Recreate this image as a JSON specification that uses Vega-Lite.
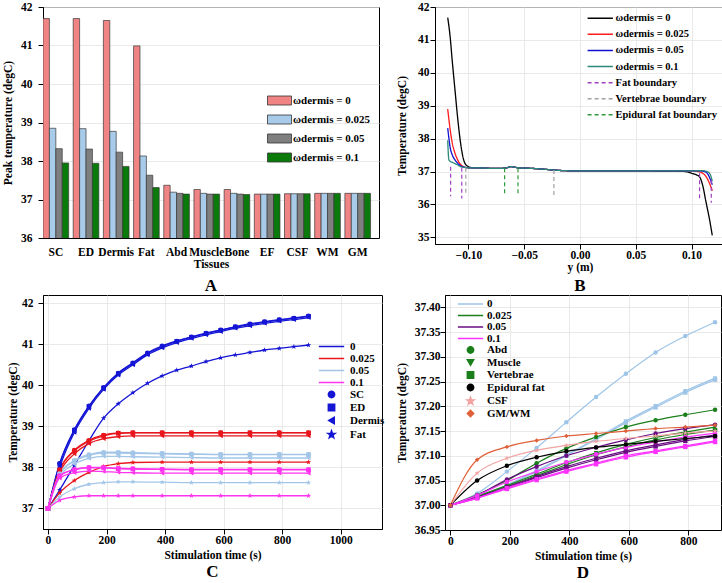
{
"$schema": "https://vega.github.io/schema/vega-lite/v6.json",
"padding": {"left": 2, "top": 0, "right": 0, "bottom": 0},
"columns": 2,
"align": {"row": "each", "column": "none"},
"spacing": {"row": -1, "column": 10},
"resolve": {"scale": {"color": "independent", "shape": "independent", "strokeDash": "independent"}},
"config": {
  "font": "Liberation Serif",
  "view": {"stroke": "black", "strokeWidth": 1},
  "axis": {"labelFont": "Liberation Serif", "labelFontWeight": "bold", "labelFontSize": 11.5, "labelColor": "black", "labelOverlap": false,
           "titleFont": "Liberation Serif", "titleFontWeight": "bold", "titleFontSize": 11.5, "titleColor": "black",
           "domainColor": "black", "tickColor": "black", "tickSize": 5, "gridColor": "#e3e3e3", "gridWidth": 0.8, "labelPadding": 3, "titlePadding": 4},
  "legend": {"labelFont": "Liberation Serif", "labelFontWeight": "bold", "labelFontSize": 11, "labelColor": "black", "padding": 0},
  "title": {"font": "Liberation Serif", "fontWeight": "bold", "fontSize": 17, "color": "black"}
},
"datasets": {
  "bars": [
    {"tissue":"SC","w":"0","v":41.7},{"tissue":"SC","w":"0.025","v":38.85},{"tissue":"SC","w":"0.05","v":38.32},{"tissue":"SC","w":"0.1","v":37.95},
    {"tissue":"ED","w":"0","v":41.7},{"tissue":"ED","w":"0.025","v":38.84},{"tissue":"ED","w":"0.05","v":38.31},{"tissue":"ED","w":"0.1","v":37.94},
    {"tissue":"Dermis","w":"0","v":41.65},{"tissue":"Dermis","w":"0.025","v":38.77},{"tissue":"Dermis","w":"0.05","v":38.23},{"tissue":"Dermis","w":"0.1","v":37.86},
    {"tissue":"Fat","w":"0","v":40.99},{"tissue":"Fat","w":"0.025","v":38.13},{"tissue":"Fat","w":"0.05","v":37.63},{"tissue":"Fat","w":"0.1","v":37.31},
    {"tissue":"Abd","w":"0","v":37.37},{"tissue":"Abd","w":"0.025","v":37.19},{"tissue":"Abd","w":"0.05","v":37.16},{"tissue":"Abd","w":"0.1","v":37.14},
    {"tissue":"Muscle","w":"0","v":37.26},{"tissue":"Muscle","w":"0.025","v":37.16},{"tissue":"Muscle","w":"0.05","v":37.14},{"tissue":"Muscle","w":"0.1","v":37.14},
    {"tissue":"Bone","w":"0","v":37.26},{"tissue":"Bone","w":"0.025","v":37.16},{"tissue":"Bone","w":"0.05","v":37.14},{"tissue":"Bone","w":"0.1","v":37.13},
    {"tissue":"EF","w":"0","v":37.14},{"tissue":"EF","w":"0.025","v":37.14},{"tissue":"EF","w":"0.05","v":37.14},{"tissue":"EF","w":"0.1","v":37.14},
    {"tissue":"CSF","w":"0","v":37.15},{"tissue":"CSF","w":"0.025","v":37.15},{"tissue":"CSF","w":"0.05","v":37.15},{"tissue":"CSF","w":"0.1","v":37.15},
    {"tissue":"WM","w":"0","v":37.16},{"tissue":"WM","w":"0.025","v":37.16},{"tissue":"WM","w":"0.05","v":37.16},{"tissue":"WM","w":"0.1","v":37.16},
    {"tissue":"GM","w":"0","v":37.16},{"tissue":"GM","w":"0.025","v":37.16},{"tissue":"GM","w":"0.05","v":37.16},{"tissue":"GM","w":"0.1","v":37.16}
  ],
  "profile": [
    {"y":-0.1186,"T":41.68,"k":"ωdermis = 0"},{"y":-0.1165,"T":41.12,"k":"ωdermis = 0"},{"y":-0.1144,"T":40.31,"k":"ωdermis = 0"},{"y":-0.112,"T":39.45,"k":"ωdermis = 0"},{"y":-0.1096,"T":38.6,"k":"ωdermis = 0"},{"y":-0.1072,"T":37.9,"k":"ωdermis = 0"},{"y":-0.1045,"T":37.38,"k":"ωdermis = 0"},{"y":-0.1015,"T":37.18,"k":"ωdermis = 0"},{"y":-0.097,"T":37.12,"k":"ωdermis = 0"},
    {"y":-0.09,"T":37.11,"k":"ωdermis = 0"},{"y":-0.08,"T":37.1,"k":"ωdermis = 0"},{"y":-0.07,"T":37.1,"k":"ωdermis = 0"},{"y":-0.065,"T":37.12,"k":"ωdermis = 0"},{"y":-0.062,"T":37.15,"k":"ωdermis = 0"},{"y":-0.058,"T":37.13,"k":"ωdermis = 0"},{"y":-0.055,"T":37.11,"k":"ωdermis = 0"},{"y":-0.045,"T":37.1,"k":"ωdermis = 0"},{"y":-0.035,"T":37.08,"k":"ωdermis = 0"},{"y":-0.025,"T":37.05,"k":"ωdermis = 0"},{"y":-0.015,"T":37.03,"k":"ωdermis = 0"},{"y":0,"T":37.02,"k":"ωdermis = 0"},{"y":0.05,"T":37.02,"k":"ωdermis = 0"},{"y":0.09,"T":37.01,"k":"ωdermis = 0"},
    {"y":0.095,"T":37.0,"k":"ωdermis = 0"},{"y":0.1,"T":36.95,"k":"ωdermis = 0"},{"y":0.1045,"T":36.9,"k":"ωdermis = 0"},{"y":0.1072,"T":36.84,"k":"ωdermis = 0"},{"y":0.11,"T":36.58,"k":"ωdermis = 0"},{"y":0.113,"T":36.07,"k":"ωdermis = 0"},{"y":0.116,"T":35.57,"k":"ωdermis = 0"},{"y":0.1186,"T":35.06,"k":"ωdermis = 0"},

    {"y":-0.1186,"T":38.9,"k":"ωdermis = 0.025"},{"y":-0.1165,"T":38.3,"k":"ωdermis = 0.025"},{"y":-0.1144,"T":37.85,"k":"ωdermis = 0.025"},{"y":-0.112,"T":37.55,"k":"ωdermis = 0.025"},{"y":-0.1096,"T":37.35,"k":"ωdermis = 0.025"},{"y":-0.1072,"T":37.22,"k":"ωdermis = 0.025"},{"y":-0.1045,"T":37.15,"k":"ωdermis = 0.025"},{"y":-0.1015,"T":37.12,"k":"ωdermis = 0.025"},{"y":-0.097,"T":37.11,"k":"ωdermis = 0.025"},
    {"y":-0.09,"T":37.11,"k":"ωdermis = 0.025"},{"y":-0.08,"T":37.1,"k":"ωdermis = 0.025"},{"y":-0.07,"T":37.1,"k":"ωdermis = 0.025"},{"y":-0.065,"T":37.12,"k":"ωdermis = 0.025"},{"y":-0.062,"T":37.15,"k":"ωdermis = 0.025"},{"y":-0.058,"T":37.13,"k":"ωdermis = 0.025"},{"y":-0.055,"T":37.11,"k":"ωdermis = 0.025"},{"y":-0.045,"T":37.1,"k":"ωdermis = 0.025"},{"y":-0.035,"T":37.08,"k":"ωdermis = 0.025"},{"y":-0.025,"T":37.05,"k":"ωdermis = 0.025"},{"y":-0.015,"T":37.03,"k":"ωdermis = 0.025"},{"y":0,"T":37.02,"k":"ωdermis = 0.025"},{"y":0.05,"T":37.02,"k":"ωdermis = 0.025"},{"y":0.09,"T":37.02,"k":"ωdermis = 0.025"},
    {"y":0.1,"T":37.02,"k":"ωdermis = 0.025"},{"y":0.106,"T":37.0,"k":"ωdermis = 0.025"},{"y":0.11,"T":36.95,"k":"ωdermis = 0.025"},{"y":0.113,"T":36.85,"k":"ωdermis = 0.025"},{"y":0.116,"T":36.65,"k":"ωdermis = 0.025"},{"y":0.1186,"T":36.42,"k":"ωdermis = 0.025"},

    {"y":-0.1186,"T":38.32,"k":"ωdermis = 0.05"},{"y":-0.1175,"T":38.0,"k":"ωdermis = 0.05"},{"y":-0.1165,"T":37.75,"k":"ωdermis = 0.05"},{"y":-0.1144,"T":37.5,"k":"ωdermis = 0.05"},{"y":-0.112,"T":37.35,"k":"ωdermis = 0.05"},{"y":-0.1096,"T":37.25,"k":"ωdermis = 0.05"},{"y":-0.1072,"T":37.18,"k":"ωdermis = 0.05"},{"y":-0.1045,"T":37.14,"k":"ωdermis = 0.05"},{"y":-0.1015,"T":37.12,"k":"ωdermis = 0.05"},{"y":-0.097,"T":37.11,"k":"ωdermis = 0.05"},
    {"y":-0.09,"T":37.11,"k":"ωdermis = 0.05"},{"y":-0.08,"T":37.1,"k":"ωdermis = 0.05"},{"y":-0.07,"T":37.1,"k":"ωdermis = 0.05"},{"y":-0.065,"T":37.12,"k":"ωdermis = 0.05"},{"y":-0.062,"T":37.15,"k":"ωdermis = 0.05"},{"y":-0.058,"T":37.13,"k":"ωdermis = 0.05"},{"y":-0.055,"T":37.11,"k":"ωdermis = 0.05"},{"y":-0.045,"T":37.1,"k":"ωdermis = 0.05"},{"y":-0.035,"T":37.08,"k":"ωdermis = 0.05"},{"y":-0.025,"T":37.05,"k":"ωdermis = 0.05"},{"y":-0.015,"T":37.03,"k":"ωdermis = 0.05"},{"y":0,"T":37.02,"k":"ωdermis = 0.05"},{"y":0.05,"T":37.02,"k":"ωdermis = 0.05"},{"y":0.09,"T":37.02,"k":"ωdermis = 0.05"},
    {"y":0.1,"T":37.02,"k":"ωdermis = 0.05"},{"y":0.108,"T":37.02,"k":"ωdermis = 0.05"},{"y":0.112,"T":37.0,"k":"ωdermis = 0.05"},{"y":0.115,"T":36.9,"k":"ωdermis = 0.05"},{"y":0.117,"T":36.75,"k":"ωdermis = 0.05"},{"y":0.1186,"T":36.6,"k":"ωdermis = 0.05"},

    {"y":-0.1186,"T":37.95,"k":"ωdermis = 0.1"},{"y":-0.118,"T":37.5,"k":"ωdermis = 0.1"},{"y":-0.1175,"T":37.35,"k":"ωdermis = 0.1"},{"y":-0.116,"T":37.3,"k":"ωdermis = 0.1"},{"y":-0.1144,"T":37.28,"k":"ωdermis = 0.1"},{"y":-0.112,"T":37.24,"k":"ωdermis = 0.1"},{"y":-0.1096,"T":37.2,"k":"ωdermis = 0.1"},{"y":-0.1072,"T":37.15,"k":"ωdermis = 0.1"},{"y":-0.1045,"T":37.13,"k":"ωdermis = 0.1"},{"y":-0.1015,"T":37.12,"k":"ωdermis = 0.1"},{"y":-0.097,"T":37.11,"k":"ωdermis = 0.1"},
    {"y":-0.09,"T":37.11,"k":"ωdermis = 0.1"},{"y":-0.08,"T":37.1,"k":"ωdermis = 0.1"},{"y":-0.07,"T":37.1,"k":"ωdermis = 0.1"},{"y":-0.065,"T":37.12,"k":"ωdermis = 0.1"},{"y":-0.062,"T":37.15,"k":"ωdermis = 0.1"},{"y":-0.058,"T":37.13,"k":"ωdermis = 0.1"},{"y":-0.055,"T":37.11,"k":"ωdermis = 0.1"},{"y":-0.045,"T":37.1,"k":"ωdermis = 0.1"},{"y":-0.035,"T":37.08,"k":"ωdermis = 0.1"},{"y":-0.025,"T":37.05,"k":"ωdermis = 0.1"},{"y":-0.015,"T":37.03,"k":"ωdermis = 0.1"},{"y":0,"T":37.02,"k":"ωdermis = 0.1"},{"y":0.05,"T":37.02,"k":"ωdermis = 0.1"},{"y":0.09,"T":37.02,"k":"ωdermis = 0.1"},
    {"y":0.1,"T":37.02,"k":"ωdermis = 0.1"},{"y":0.11,"T":37.03,"k":"ωdermis = 0.1"},{"y":0.114,"T":37.0,"k":"ωdermis = 0.1"},{"y":0.116,"T":36.95,"k":"ωdermis = 0.1"},{"y":0.1175,"T":36.85,"k":"ωdermis = 0.1"},{"y":0.1186,"T":36.7,"k":"ωdermis = 0.1"}
  ],
  "bounds": [
    {"y":-0.116,"T":37.15,"T2":36.25,"k":"Fat boundary"},
    {"y":-0.106,"T":37.12,"T2":36.18,"k":"Fat boundary"},
    {"y":0.1072,"T":36.95,"T2":36.12,"k":"Fat boundary"},
    {"y":0.1177,"T":36.75,"T2":36.05,"k":"Fat boundary"},
    {"y":-0.1024,"T":37.12,"T2":36.28,"k":"Vertebrae boundary"},
    {"y":-0.0234,"T":37.05,"T2":36.2,"k":"Vertebrae boundary"},
    {"y":-0.0676,"T":37.1,"T2":36.3,"k":"Epidural fat boundary"},
    {"y":-0.0556,"T":37.1,"T2":36.3,"k":"Epidural fat boundary"}
  ],
  "timeC": [
    {"t":0,"v":37.0,"c":"0","s":"SC"},{"t":40,"v":38.1,"c":"0","s":"SC"},{"t":90,"v":38.92,"c":"0","s":"SC"},{"t":140,"v":39.5,"c":"0","s":"SC"},{"t":190,"v":39.95,"c":"0","s":"SC"},{"t":240,"v":40.3,"c":"0","s":"SC"},{"t":290,"v":40.55,"c":"0","s":"SC"},{"t":340,"v":40.79,"c":"0","s":"SC"},{"t":390,"v":40.96,"c":"0","s":"SC"},{"t":440,"v":41.08,"c":"0","s":"SC"},{"t":490,"v":41.18,"c":"0","s":"SC"},{"t":540,"v":41.27,"c":"0","s":"SC"},{"t":590,"v":41.35,"c":"0","s":"SC"},{"t":640,"v":41.43,"c":"0","s":"SC"},{"t":690,"v":41.5,"c":"0","s":"SC"},{"t":740,"v":41.55,"c":"0","s":"SC"},{"t":790,"v":41.6,"c":"0","s":"SC"},{"t":840,"v":41.64,"c":"0","s":"SC"},{"t":890,"v":41.69,"c":"0","s":"SC"},
    {"t":0,"v":37.0,"c":"0","s":"ED"},{"t":40,"v":38.08,"c":"0","s":"ED"},{"t":90,"v":38.9,"c":"0","s":"ED"},{"t":140,"v":39.48,"c":"0","s":"ED"},{"t":190,"v":39.93,"c":"0","s":"ED"},{"t":240,"v":40.28,"c":"0","s":"ED"},{"t":290,"v":40.53,"c":"0","s":"ED"},{"t":340,"v":40.77,"c":"0","s":"ED"},{"t":390,"v":40.94,"c":"0","s":"ED"},{"t":440,"v":41.07,"c":"0","s":"ED"},{"t":490,"v":41.17,"c":"0","s":"ED"},{"t":540,"v":41.26,"c":"0","s":"ED"},{"t":590,"v":41.34,"c":"0","s":"ED"},{"t":640,"v":41.42,"c":"0","s":"ED"},{"t":690,"v":41.48,"c":"0","s":"ED"},{"t":740,"v":41.54,"c":"0","s":"ED"},{"t":790,"v":41.59,"c":"0","s":"ED"},{"t":840,"v":41.63,"c":"0","s":"ED"},{"t":890,"v":41.68,"c":"0","s":"ED"},
    {"t":0,"v":37.0,"c":"0","s":"Dermis"},{"t":40,"v":38.0,"c":"0","s":"Dermis"},{"t":90,"v":38.85,"c":"0","s":"Dermis"},{"t":140,"v":39.44,"c":"0","s":"Dermis"},{"t":190,"v":39.9,"c":"0","s":"Dermis"},{"t":240,"v":40.25,"c":"0","s":"Dermis"},{"t":290,"v":40.5,"c":"0","s":"Dermis"},{"t":340,"v":40.74,"c":"0","s":"Dermis"},{"t":390,"v":40.91,"c":"0","s":"Dermis"},{"t":440,"v":41.04,"c":"0","s":"Dermis"},{"t":490,"v":41.14,"c":"0","s":"Dermis"},{"t":540,"v":41.23,"c":"0","s":"Dermis"},{"t":590,"v":41.31,"c":"0","s":"Dermis"},{"t":640,"v":41.39,"c":"0","s":"Dermis"},{"t":690,"v":41.45,"c":"0","s":"Dermis"},{"t":740,"v":41.51,"c":"0","s":"Dermis"},{"t":790,"v":41.56,"c":"0","s":"Dermis"},{"t":840,"v":41.6,"c":"0","s":"Dermis"},{"t":890,"v":41.65,"c":"0","s":"Dermis"},
    {"t":0,"v":37.0,"c":"0","s":"Fat"},{"t":40,"v":37.45,"c":"0","s":"Fat"},{"t":90,"v":38.05,"c":"0","s":"Fat"},{"t":140,"v":38.65,"c":"0","s":"Fat"},{"t":190,"v":39.2,"c":"0","s":"Fat"},{"t":240,"v":39.55,"c":"0","s":"Fat"},{"t":290,"v":39.82,"c":"0","s":"Fat"},{"t":340,"v":40.05,"c":"0","s":"Fat"},{"t":390,"v":40.23,"c":"0","s":"Fat"},{"t":440,"v":40.37,"c":"0","s":"Fat"},{"t":490,"v":40.47,"c":"0","s":"Fat"},{"t":540,"v":40.58,"c":"0","s":"Fat"},{"t":590,"v":40.67,"c":"0","s":"Fat"},{"t":640,"v":40.74,"c":"0","s":"Fat"},{"t":690,"v":40.8,"c":"0","s":"Fat"},{"t":740,"v":40.86,"c":"0","s":"Fat"},{"t":790,"v":40.9,"c":"0","s":"Fat"},{"t":840,"v":40.94,"c":"0","s":"Fat"},{"t":890,"v":40.98,"c":"0","s":"Fat"},

    {"t":0,"v":37.0,"c":"0.025","s":"SC"},{"t":40,"v":37.95,"c":"0.025","s":"SC"},{"t":90,"v":38.42,"c":"0.025","s":"SC"},{"t":140,"v":38.66,"c":"0.025","s":"SC"},{"t":190,"v":38.79,"c":"0.025","s":"SC"},{"t":240,"v":38.84,"c":"0.025","s":"SC"},{"t":290,"v":38.85,"c":"0.025","s":"SC"},{"t":390,"v":38.85,"c":"0.025","s":"SC"},{"t":490,"v":38.85,"c":"0.025","s":"SC"},{"t":590,"v":38.85,"c":"0.025","s":"SC"},{"t":690,"v":38.85,"c":"0.025","s":"SC"},{"t":790,"v":38.85,"c":"0.025","s":"SC"},{"t":890,"v":38.85,"c":"0.025","s":"SC"},
    {"t":0,"v":37.0,"c":"0.025","s":"ED"},{"t":40,"v":37.93,"c":"0.025","s":"ED"},{"t":90,"v":38.4,"c":"0.025","s":"ED"},{"t":140,"v":38.64,"c":"0.025","s":"ED"},{"t":190,"v":38.77,"c":"0.025","s":"ED"},{"t":240,"v":38.83,"c":"0.025","s":"ED"},{"t":290,"v":38.84,"c":"0.025","s":"ED"},{"t":390,"v":38.84,"c":"0.025","s":"ED"},{"t":490,"v":38.84,"c":"0.025","s":"ED"},{"t":590,"v":38.84,"c":"0.025","s":"ED"},{"t":690,"v":38.84,"c":"0.025","s":"ED"},{"t":790,"v":38.84,"c":"0.025","s":"ED"},{"t":890,"v":38.84,"c":"0.025","s":"ED"},
    {"t":0,"v":37.0,"c":"0.025","s":"Dermis"},{"t":40,"v":37.88,"c":"0.025","s":"Dermis"},{"t":90,"v":38.33,"c":"0.025","s":"Dermis"},{"t":140,"v":38.58,"c":"0.025","s":"Dermis"},{"t":190,"v":38.7,"c":"0.025","s":"Dermis"},{"t":240,"v":38.75,"c":"0.025","s":"Dermis"},{"t":290,"v":38.77,"c":"0.025","s":"Dermis"},{"t":390,"v":38.77,"c":"0.025","s":"Dermis"},{"t":490,"v":38.77,"c":"0.025","s":"Dermis"},{"t":590,"v":38.77,"c":"0.025","s":"Dermis"},{"t":690,"v":38.77,"c":"0.025","s":"Dermis"},{"t":790,"v":38.77,"c":"0.025","s":"Dermis"},{"t":890,"v":38.77,"c":"0.025","s":"Dermis"},
    {"t":0,"v":37.0,"c":"0.025","s":"Fat"},{"t":40,"v":37.38,"c":"0.025","s":"Fat"},{"t":90,"v":37.68,"c":"0.025","s":"Fat"},{"t":140,"v":37.88,"c":"0.025","s":"Fat"},{"t":190,"v":38.02,"c":"0.025","s":"Fat"},{"t":240,"v":38.09,"c":"0.025","s":"Fat"},{"t":290,"v":38.12,"c":"0.025","s":"Fat"},{"t":390,"v":38.13,"c":"0.025","s":"Fat"},{"t":490,"v":38.13,"c":"0.025","s":"Fat"},{"t":590,"v":38.13,"c":"0.025","s":"Fat"},{"t":690,"v":38.13,"c":"0.025","s":"Fat"},{"t":790,"v":38.13,"c":"0.025","s":"Fat"},{"t":890,"v":38.13,"c":"0.025","s":"Fat"},

    {"t":0,"v":37.0,"c":"0.05","s":"SC"},{"t":40,"v":37.85,"c":"0.05","s":"SC"},{"t":90,"v":38.17,"c":"0.05","s":"SC"},{"t":140,"v":38.31,"c":"0.05","s":"SC"},{"t":190,"v":38.37,"c":"0.05","s":"SC"},{"t":240,"v":38.37,"c":"0.05","s":"SC"},{"t":290,"v":38.36,"c":"0.05","s":"SC"},{"t":390,"v":38.34,"c":"0.05","s":"SC"},{"t":490,"v":38.33,"c":"0.05","s":"SC"},{"t":590,"v":38.32,"c":"0.05","s":"SC"},{"t":690,"v":38.32,"c":"0.05","s":"SC"},{"t":790,"v":38.32,"c":"0.05","s":"SC"},{"t":890,"v":38.32,"c":"0.05","s":"SC"},
    {"t":0,"v":37.0,"c":"0.05","s":"ED"},{"t":40,"v":37.83,"c":"0.05","s":"ED"},{"t":90,"v":38.15,"c":"0.05","s":"ED"},{"t":140,"v":38.29,"c":"0.05","s":"ED"},{"t":190,"v":38.35,"c":"0.05","s":"ED"},{"t":240,"v":38.35,"c":"0.05","s":"ED"},{"t":290,"v":38.34,"c":"0.05","s":"ED"},{"t":390,"v":38.33,"c":"0.05","s":"ED"},{"t":490,"v":38.32,"c":"0.05","s":"ED"},{"t":590,"v":38.31,"c":"0.05","s":"ED"},{"t":690,"v":38.31,"c":"0.05","s":"ED"},{"t":790,"v":38.31,"c":"0.05","s":"ED"},{"t":890,"v":38.31,"c":"0.05","s":"ED"},
    {"t":0,"v":37.0,"c":"0.05","s":"Dermis"},{"t":40,"v":37.78,"c":"0.05","s":"Dermis"},{"t":90,"v":38.08,"c":"0.05","s":"Dermis"},{"t":140,"v":38.22,"c":"0.05","s":"Dermis"},{"t":190,"v":38.27,"c":"0.05","s":"Dermis"},{"t":240,"v":38.27,"c":"0.05","s":"Dermis"},{"t":290,"v":38.26,"c":"0.05","s":"Dermis"},{"t":390,"v":38.25,"c":"0.05","s":"Dermis"},{"t":490,"v":38.24,"c":"0.05","s":"Dermis"},{"t":590,"v":38.23,"c":"0.05","s":"Dermis"},{"t":690,"v":38.23,"c":"0.05","s":"Dermis"},{"t":790,"v":38.23,"c":"0.05","s":"Dermis"},{"t":890,"v":38.23,"c":"0.05","s":"Dermis"},
    {"t":0,"v":37.0,"c":"0.05","s":"Fat"},{"t":40,"v":37.28,"c":"0.05","s":"Fat"},{"t":90,"v":37.48,"c":"0.05","s":"Fat"},{"t":140,"v":37.59,"c":"0.05","s":"Fat"},{"t":190,"v":37.63,"c":"0.05","s":"Fat"},{"t":240,"v":37.65,"c":"0.05","s":"Fat"},{"t":290,"v":37.65,"c":"0.05","s":"Fat"},{"t":390,"v":37.64,"c":"0.05","s":"Fat"},{"t":490,"v":37.63,"c":"0.05","s":"Fat"},{"t":590,"v":37.63,"c":"0.05","s":"Fat"},{"t":690,"v":37.63,"c":"0.05","s":"Fat"},{"t":790,"v":37.63,"c":"0.05","s":"Fat"},{"t":890,"v":37.63,"c":"0.05","s":"Fat"},

    {"t":0,"v":37.0,"c":"0.1","s":"SC"},{"t":40,"v":37.8,"c":"0.1","s":"SC"},{"t":90,"v":37.95,"c":"0.1","s":"SC"},{"t":140,"v":38.0,"c":"0.1","s":"SC"},{"t":190,"v":38.0,"c":"0.1","s":"SC"},{"t":240,"v":37.98,"c":"0.1","s":"SC"},{"t":290,"v":37.97,"c":"0.1","s":"SC"},{"t":390,"v":37.96,"c":"0.1","s":"SC"},{"t":490,"v":37.95,"c":"0.1","s":"SC"},{"t":590,"v":37.95,"c":"0.1","s":"SC"},{"t":690,"v":37.95,"c":"0.1","s":"SC"},{"t":790,"v":37.95,"c":"0.1","s":"SC"},{"t":890,"v":37.95,"c":"0.1","s":"SC"},
    {"t":0,"v":37.0,"c":"0.1","s":"ED"},{"t":40,"v":37.79,"c":"0.1","s":"ED"},{"t":90,"v":37.94,"c":"0.1","s":"ED"},{"t":140,"v":37.99,"c":"0.1","s":"ED"},{"t":190,"v":37.99,"c":"0.1","s":"ED"},{"t":240,"v":37.97,"c":"0.1","s":"ED"},{"t":290,"v":37.96,"c":"0.1","s":"ED"},{"t":390,"v":37.95,"c":"0.1","s":"ED"},{"t":490,"v":37.94,"c":"0.1","s":"ED"},{"t":590,"v":37.94,"c":"0.1","s":"ED"},{"t":690,"v":37.94,"c":"0.1","s":"ED"},{"t":790,"v":37.94,"c":"0.1","s":"ED"},{"t":890,"v":37.94,"c":"0.1","s":"ED"},
    {"t":0,"v":37.0,"c":"0.1","s":"Dermis"},{"t":40,"v":37.74,"c":"0.1","s":"Dermis"},{"t":90,"v":37.87,"c":"0.1","s":"Dermis"},{"t":140,"v":37.91,"c":"0.1","s":"Dermis"},{"t":190,"v":37.9,"c":"0.1","s":"Dermis"},{"t":240,"v":37.88,"c":"0.1","s":"Dermis"},{"t":290,"v":37.87,"c":"0.1","s":"Dermis"},{"t":390,"v":37.86,"c":"0.1","s":"Dermis"},{"t":490,"v":37.86,"c":"0.1","s":"Dermis"},{"t":590,"v":37.86,"c":"0.1","s":"Dermis"},{"t":690,"v":37.86,"c":"0.1","s":"Dermis"},{"t":790,"v":37.86,"c":"0.1","s":"Dermis"},{"t":890,"v":37.86,"c":"0.1","s":"Dermis"},
    {"t":0,"v":37.0,"c":"0.1","s":"Fat"},{"t":40,"v":37.2,"c":"0.1","s":"Fat"},{"t":90,"v":37.28,"c":"0.1","s":"Fat"},{"t":140,"v":37.31,"c":"0.1","s":"Fat"},{"t":190,"v":37.31,"c":"0.1","s":"Fat"},{"t":240,"v":37.31,"c":"0.1","s":"Fat"},{"t":290,"v":37.31,"c":"0.1","s":"Fat"},{"t":390,"v":37.31,"c":"0.1","s":"Fat"},{"t":490,"v":37.31,"c":"0.1","s":"Fat"},{"t":590,"v":37.31,"c":"0.1","s":"Fat"},{"t":690,"v":37.31,"c":"0.1","s":"Fat"},{"t":790,"v":37.31,"c":"0.1","s":"Fat"},{"t":890,"v":37.31,"c":"0.1","s":"Fat"}
  ],
  "timeD": [
    {"t":0,"v":37.0,"c":"0","s":"Abd"},{"t":90,"v":37.024,"c":"0","s":"Abd"},{"t":190,"v":37.068,"c":"0","s":"Abd"},{"t":290,"v":37.116,"c":"0","s":"Abd"},{"t":390,"v":37.168,"c":"0","s":"Abd"},{"t":490,"v":37.219,"c":"0","s":"Abd"},{"t":590,"v":37.266,"c":"0","s":"Abd"},{"t":690,"v":37.309,"c":"0","s":"Abd"},{"t":790,"v":37.342,"c":"0","s":"Abd"},{"t":890,"v":37.37,"c":"0","s":"Abd"},
    {"t":0,"v":37.0,"c":"0","s":"Muscle"},{"t":90,"v":37.018,"c":"0","s":"Muscle"},{"t":190,"v":37.041,"c":"0","s":"Muscle"},{"t":290,"v":37.07,"c":"0","s":"Muscle"},{"t":390,"v":37.102,"c":"0","s":"Muscle"},{"t":490,"v":37.135,"c":"0","s":"Muscle"},{"t":590,"v":37.17,"c":"0","s":"Muscle"},{"t":690,"v":37.201,"c":"0","s":"Muscle"},{"t":790,"v":37.231,"c":"0","s":"Muscle"},{"t":890,"v":37.257,"c":"0","s":"Muscle"},
    {"t":0,"v":37.0,"c":"0","s":"Vertebrae"},{"t":90,"v":37.017,"c":"0","s":"Vertebrae"},{"t":190,"v":37.04,"c":"0","s":"Vertebrae"},{"t":290,"v":37.068,"c":"0","s":"Vertebrae"},{"t":390,"v":37.1,"c":"0","s":"Vertebrae"},{"t":490,"v":37.133,"c":"0","s":"Vertebrae"},{"t":590,"v":37.167,"c":"0","s":"Vertebrae"},{"t":690,"v":37.198,"c":"0","s":"Vertebrae"},{"t":790,"v":37.228,"c":"0","s":"Vertebrae"},{"t":890,"v":37.254,"c":"0","s":"Vertebrae"},
    {"t":0,"v":37.0,"c":"0.025","s":"Abd"},{"t":90,"v":37.021,"c":"0.025","s":"Abd"},{"t":190,"v":37.05,"c":"0.025","s":"Abd"},{"t":290,"v":37.085,"c":"0.025","s":"Abd"},{"t":390,"v":37.115,"c":"0.025","s":"Abd"},{"t":490,"v":37.138,"c":"0.025","s":"Abd"},{"t":590,"v":37.158,"c":"0.025","s":"Abd"},{"t":690,"v":37.172,"c":"0.025","s":"Abd"},{"t":790,"v":37.183,"c":"0.025","s":"Abd"},{"t":890,"v":37.193,"c":"0.025","s":"Abd"},
    {"t":0,"v":37.0,"c":"0.025","s":"Muscle"},{"t":90,"v":37.018,"c":"0.025","s":"Muscle"},{"t":190,"v":37.04,"c":"0.025","s":"Muscle"},{"t":290,"v":37.063,"c":"0.025","s":"Muscle"},{"t":390,"v":37.086,"c":"0.025","s":"Muscle"},{"t":490,"v":37.106,"c":"0.025","s":"Muscle"},{"t":590,"v":37.123,"c":"0.025","s":"Muscle"},{"t":690,"v":37.137,"c":"0.025","s":"Muscle"},{"t":790,"v":37.148,"c":"0.025","s":"Muscle"},{"t":890,"v":37.158,"c":"0.025","s":"Muscle"},
    {"t":0,"v":37.0,"c":"0.025","s":"Vertebrae"},{"t":90,"v":37.017,"c":"0.025","s":"Vertebrae"},{"t":190,"v":37.038,"c":"0.025","s":"Vertebrae"},{"t":290,"v":37.06,"c":"0.025","s":"Vertebrae"},{"t":390,"v":37.082,"c":"0.025","s":"Vertebrae"},{"t":490,"v":37.102,"c":"0.025","s":"Vertebrae"},{"t":590,"v":37.118,"c":"0.025","s":"Vertebrae"},{"t":690,"v":37.132,"c":"0.025","s":"Vertebrae"},{"t":790,"v":37.143,"c":"0.025","s":"Vertebrae"},{"t":890,"v":37.152,"c":"0.025","s":"Vertebrae"},
    {"t":0,"v":37.0,"c":"0.05","s":"Abd"},{"t":90,"v":37.02,"c":"0.05","s":"Abd"},{"t":190,"v":37.052,"c":"0.05","s":"Abd"},{"t":290,"v":37.078,"c":"0.05","s":"Abd"},{"t":390,"v":37.1,"c":"0.05","s":"Abd"},{"t":490,"v":37.117,"c":"0.05","s":"Abd"},{"t":590,"v":37.132,"c":"0.05","s":"Abd"},{"t":690,"v":37.145,"c":"0.05","s":"Abd"},{"t":790,"v":37.155,"c":"0.05","s":"Abd"},{"t":890,"v":37.163,"c":"0.05","s":"Abd"},
    {"t":0,"v":37.0,"c":"0.05","s":"Muscle"},{"t":90,"v":37.016,"c":"0.05","s":"Muscle"},{"t":190,"v":37.037,"c":"0.05","s":"Muscle"},{"t":290,"v":37.058,"c":"0.05","s":"Muscle"},{"t":390,"v":37.078,"c":"0.05","s":"Muscle"},{"t":490,"v":37.095,"c":"0.05","s":"Muscle"},{"t":590,"v":37.11,"c":"0.05","s":"Muscle"},{"t":690,"v":37.122,"c":"0.05","s":"Muscle"},{"t":790,"v":37.133,"c":"0.05","s":"Muscle"},{"t":890,"v":37.142,"c":"0.05","s":"Muscle"},
    {"t":0,"v":37.0,"c":"0.05","s":"Vertebrae"},{"t":90,"v":37.015,"c":"0.05","s":"Vertebrae"},{"t":190,"v":37.035,"c":"0.05","s":"Vertebrae"},{"t":290,"v":37.056,"c":"0.05","s":"Vertebrae"},{"t":390,"v":37.075,"c":"0.05","s":"Vertebrae"},{"t":490,"v":37.092,"c":"0.05","s":"Vertebrae"},{"t":590,"v":37.107,"c":"0.05","s":"Vertebrae"},{"t":690,"v":37.119,"c":"0.05","s":"Vertebrae"},{"t":790,"v":37.13,"c":"0.05","s":"Vertebrae"},{"t":890,"v":37.139,"c":"0.05","s":"Vertebrae"},
    {"t":0,"v":37.0,"c":"0.1","s":"Abd"},{"t":90,"v":37.02,"c":"0.1","s":"Abd"},{"t":190,"v":37.047,"c":"0.1","s":"Abd"},{"t":290,"v":37.068,"c":"0.1","s":"Abd"},{"t":390,"v":37.087,"c":"0.1","s":"Abd"},{"t":490,"v":37.103,"c":"0.1","s":"Abd"},{"t":590,"v":37.117,"c":"0.1","s":"Abd"},{"t":690,"v":37.128,"c":"0.1","s":"Abd"},{"t":790,"v":37.138,"c":"0.1","s":"Abd"},{"t":890,"v":37.146,"c":"0.1","s":"Abd"},
    {"t":0,"v":37.0,"c":"0.1","s":"Muscle"},{"t":90,"v":37.015,"c":"0.1","s":"Muscle"},{"t":190,"v":37.035,"c":"0.1","s":"Muscle"},{"t":290,"v":37.053,"c":"0.1","s":"Muscle"},{"t":390,"v":37.07,"c":"0.1","s":"Muscle"},{"t":490,"v":37.085,"c":"0.1","s":"Muscle"},{"t":590,"v":37.1,"c":"0.1","s":"Muscle"},{"t":690,"v":37.11,"c":"0.1","s":"Muscle"},{"t":790,"v":37.12,"c":"0.1","s":"Muscle"},{"t":890,"v":37.13,"c":"0.1","s":"Muscle"},
    {"t":0,"v":37.0,"c":"0.1","s":"Vertebrae"},{"t":90,"v":37.014,"c":"0.1","s":"Vertebrae"},{"t":190,"v":37.033,"c":"0.1","s":"Vertebrae"},{"t":290,"v":37.051,"c":"0.1","s":"Vertebrae"},{"t":390,"v":37.068,"c":"0.1","s":"Vertebrae"},{"t":490,"v":37.083,"c":"0.1","s":"Vertebrae"},{"t":590,"v":37.097,"c":"0.1","s":"Vertebrae"},{"t":690,"v":37.108,"c":"0.1","s":"Vertebrae"},{"t":790,"v":37.118,"c":"0.1","s":"Vertebrae"},{"t":890,"v":37.128,"c":"0.1","s":"Vertebrae"},
    {"t":0,"v":37.0,"c":"Epidural fat","s":"Epidural fat"},{"t":90,"v":37.05,"c":"Epidural fat","s":"Epidural fat"},{"t":190,"v":37.08,"c":"Epidural fat","s":"Epidural fat"},{"t":290,"v":37.097,"c":"Epidural fat","s":"Epidural fat"},{"t":390,"v":37.109,"c":"Epidural fat","s":"Epidural fat"},{"t":490,"v":37.117,"c":"Epidural fat","s":"Epidural fat"},{"t":590,"v":37.123,"c":"Epidural fat","s":"Epidural fat"},{"t":690,"v":37.129,"c":"Epidural fat","s":"Epidural fat"},{"t":790,"v":37.135,"c":"Epidural fat","s":"Epidural fat"},{"t":890,"v":37.14,"c":"Epidural fat","s":"Epidural fat"},
    {"t":0,"v":37.0,"c":"CSF","s":"CSF"},{"t":90,"v":37.065,"c":"CSF","s":"CSF"},{"t":190,"v":37.095,"c":"CSF","s":"CSF"},{"t":290,"v":37.111,"c":"CSF","s":"CSF"},{"t":390,"v":37.121,"c":"CSF","s":"CSF"},{"t":490,"v":37.129,"c":"CSF","s":"CSF"},{"t":590,"v":37.135,"c":"CSF","s":"CSF"},{"t":690,"v":37.14,"c":"CSF","s":"CSF"},{"t":790,"v":37.146,"c":"CSF","s":"CSF"},{"t":890,"v":37.15,"c":"CSF","s":"CSF"},
    {"t":0,"v":37.0,"c":"GM/WM","s":"GM/WM"},{"t":90,"v":37.092,"c":"GM/WM","s":"GM/WM"},{"t":190,"v":37.118,"c":"GM/WM","s":"GM/WM"},{"t":290,"v":37.131,"c":"GM/WM","s":"GM/WM"},{"t":390,"v":37.14,"c":"GM/WM","s":"GM/WM"},{"t":490,"v":37.145,"c":"GM/WM","s":"GM/WM"},{"t":590,"v":37.15,"c":"GM/WM","s":"GM/WM"},{"t":690,"v":37.155,"c":"GM/WM","s":"GM/WM"},{"t":790,"v":37.158,"c":"GM/WM","s":"GM/WM"},{"t":890,"v":37.162,"c":"GM/WM","s":"GM/WM"}
  ]
},
"concat": [
    {"name": "pa", "width": 336, "height": 231,
     "title": {"text": "A", "orient": "bottom", "offset": 8},
     "data": {"name": "bars"},
     "mark": {"type": "bar", "stroke": "#3a3a3a", "strokeWidth": 0.7, "clip": true},
     "encoding": {
       "x": {"field": "tissue", "type": "nominal", "sort": ["SC","ED","Dermis","Fat","Abd","Muscle","Bone","EF","CSF","WM","GM"],
             "scale": {"paddingInner": 0.15, "paddingOuter": 0.14, "align": 0},
             "axis": {"title": "Tissues", "labelAngle": 0, "ticks": false, "labelPadding": 8, "titlePadding": 1, "labelOverlap": false, "grid": false}},
       "xOffset": {"field": "w", "type": "nominal", "sort": ["0","0.025","0.05","0.1"]},
       "y": {"field": "v", "type": "quantitative", "scale": {"domain": [36, 42], "nice": false, "zero": false},
             "axis": {"title": "Peak temperature (degC)", "values": [36,37,38,39,40,41,42], "grid": true, "labelPadding": 6, "titlePadding": 7}},
       "color": {"field": "w", "type": "nominal", "scale": {"domain": ["0","0.025","0.05","0.1"], "range": ["#F08484","#A8CBEA","#7F7F7F","#0A7A0A"]},
                 "legend": {"title": null, "orient": "none", "legendX": 224, "legendY": 81, "symbolType": "M-1,-0.375H1V0.375H-1Z", "symbolSize": 576,
                            "symbolStrokeColor": "#333333", "symbolStrokeWidth": 0.8, "labelOffset": 1, "rowPadding": -0.5, "labelExpr": "'ωdermis = ' + datum.label"}}
     }
    },
    {"name": "pb", "width": 290, "height": 237,
     "title": {"text": "B", "orient": "bottom", "offset": 5},
     "encoding": {
       "x": {"field": "y", "type": "quantitative", "scale": {"domain": [-0.13, 0.13], "nice": false, "zero": false},
             "axis": {"title": "y (m)", "values": [-0.1, -0.05, 0, 0.05, 0.1], "format": ".2f", "grid": true, "labelPadding": 0, "titlePadding": 1}},
       "y": {"field": "T", "type": "quantitative", "scale": {"domain": [34.8, 42], "nice": false, "zero": false},
             "axis": {"title": "Temperature (degC)", "values": [35,36,37,38,39,40,41,42], "grid": true, "labelOverlap": false, "labelPadding": 1, "titlePadding": 10}},
       "color": {"field": "k", "type": "nominal",
                 "scale": {"domain": ["ωdermis = 0","ωdermis = 0.025","ωdermis = 0.05","ωdermis = 0.1","Fat boundary","Vertebrae boundary","Epidural fat boundary"],
                           "range": ["#000000","#FF1A1A","#1010D0","#2A8A7A","#A040C0","#A0A0A0","#2E9A3E"]},
                 "legend": {"title": null, "orient": "none", "legendX": 160, "legendY": 6, "symbolType": "M-4,0L4,0", "symbolSize": 40, "symbolStrokeWidth": 1.5,
                            "labelOffset": 10, "rowPadding": 5.1, "labelFontSize": 10.5}},
       "strokeDash": {"field": "k", "type": "nominal",
                      "scale": {"domain": ["ωdermis = 0","ωdermis = 0.025","ωdermis = 0.05","ωdermis = 0.1","Fat boundary","Vertebrae boundary","Epidural fat boundary"],
                                "range": [[1,0],[1,0],[1,0],[1,0],[4,3],[4,3],[4,3]]}}
     },
     "layer": [
       {"data": {"name": "profile"},
        "mark": {"type": "line", "strokeWidth": 1.3, "interpolate": "monotone"}},
       {"data": {"name": "bounds"},
        "mark": {"type": "rule", "strokeWidth": 1.2},
        "encoding": {"y2": {"field": "T2"}}}
     ]
    },
    {"name": "pc", "width": 339, "height": 234,
     "title": {"text": "C", "orient": "bottom", "offset": 3},
     "data": {"name": "timeC"},
     "encoding": {
       "x": {"field": "t", "type": "quantitative", "scale": {"domain": [-17, 1141], "nice": false, "zero": false},
             "axis": {"title": "Stimulation time (s)", "values": [0,200,400,600,800,1000], "format": "d", "grid": true, "labelPadding": 0}},
       "y": {"field": "v", "type": "quantitative", "scale": {"domain": [36.5, 42.2], "nice": false, "zero": false},
             "axis": {"title": "Temperature (degC)", "values": [37,38,39,40,41,42], "grid": true, "labelPadding": 5, "titlePadding": 3}}
     },
     "layer": [
       {"mark": {"type": "line", "strokeWidth": 1.3, "interpolate": "monotone"},
        "encoding": {
          "detail": {"field": "s", "type": "nominal"},
          "color": {"field": "c", "type": "nominal",
                    "scale": {"domain": ["0","0.025","0.05","0.1","SC","ED","Dermis","Fat"],
                              "range": ["#1515D5","#E8161C","#A3C6E8","#FF33EE","#1515D5","#1515D5","#1515D5","#1515D5"]},
                    "legend": {"title": null, "orient": "none", "legendX": 283, "legendY": 46, "symbolSize": 40, "labelOffset": 13, "rowPadding": 0,
                               "encode": {"symbols": {"update": {"fill": {"scale": "pc_color", "field": "value"}, "stroke": {"scale": "pc_color", "field": "value"}, "strokeWidth": {"value": 1.5}, "size": {"value": 40}}}}}}
        }
       },
       {"mark": {"type": "point", "filled": true, "size": 22, "opacity": 1},
        "encoding": {
          "color": {"field": "c", "type": "nominal"},
          "shape": {"field": "s", "type": "nominal",
                    "scale": {"domain": ["0","0.025","0.05","0.1","SC","ED","Dermis","Fat"],
                              "range": ["M-4,0L4,0","M-4,0L4,0","M-4,0L4,0","M-4,0L4,0","circle","square","triangle-left","M0,-1.2L0.28,-0.39L1.14,-0.37L0.46,0.15L0.7,0.97L0,0.48L-0.7,0.97L-0.46,0.15L-1.14,-0.37L-0.28,-0.39Z"]},
                    "legend": {"title": null,
                               "encode": {"symbols": {"update": {"fill": {"scale": "pc_color", "field": "value"}, "stroke": {"scale": "pc_color", "field": "value"}, "strokeWidth": {"value": 1.5}, "size": {"value": 40}}}}}}
        }
       }
     ]
    },
    {"name": "pd", "width": 276, "height": 235,
     "title": {"text": "D", "orient": "bottom", "offset": 3},
     "data": {"name": "timeD"},
     "encoding": {
       "x": {"field": "t", "type": "quantitative", "scale": {"domain": [-18, 910], "nice": false, "zero": false},
             "axis": {"title": "Stimulation time (s)", "values": [0,200,400,600,800], "grid": true, "labelPadding": 0}},
       "y": {"field": "v", "type": "quantitative", "scale": {"domain": [36.95, 37.425], "nice": false, "zero": false},
             "axis": {"title": "Temperature (degC)", "values": [36.95,37.0,37.05,37.1,37.15,37.2,37.25,37.3,37.35,37.4], "format": ".2f", "grid": true, "labelPadding": 0, "titlePadding": 6.5}}
     },
     "layer": [
       {"mark": {"type": "line", "strokeWidth": 1.2, "interpolate": "monotone"},
        "encoding": {
          "detail": {"field": "s", "type": "nominal"},
          "color": {"field": "c", "type": "nominal",
                    "scale": {"domain": ["0","0.025","0.05","0.1","Abd","Muscle","Vertebrae","Epidural fat","CSF","GM/WM"],
                              "range": ["#9EC5E8","#1A7F1A","#6A0D83","#FF33FF","#1A7F1A","#1A7F1A","#1A7F1A","#000000","#F4A3A3","#E0603A"]},
                    "legend": {"title": null, "orient": "none", "legendX": 20, "legendY": 3.5, "symbolSize": 40, "labelOffset": 11, "rowPadding": -0.5,
                               "encode": {"symbols": {"update": {"fill": {"scale": "pd_color", "field": "value"}, "stroke": {"scale": "pd_color", "field": "value"}, "strokeWidth": {"value": 1.5}, "size": {"value": 40}}}}}}
        }
       },
       {"mark": {"type": "point", "filled": true, "size": 20, "opacity": 1},
        "encoding": {
          "color": {"field": "c", "type": "nominal"},
          "shape": {"field": "s", "type": "nominal",
                    "scale": {"domain": ["0","0.025","0.05","0.1","Abd","Muscle","Vertebrae","Epidural fat","CSF","GM/WM"],
                              "range": ["M-4,0L4,0","M-4,0L4,0","M-4,0L4,0","M-4,0L4,0","circle","triangle-down","square","circle","M0,-1.2L0.28,-0.39L1.14,-0.37L0.46,0.15L0.7,0.97L0,0.48L-0.7,0.97L-0.46,0.15L-1.14,-0.37L-0.28,-0.39Z","diamond"]},
                    "legend": {"title": null,
                               "encode": {"symbols": {"update": {"fill": {"scale": "pd_color", "field": "value"}, "stroke": {"scale": "pd_color", "field": "value"}, "strokeWidth": {"value": 1.5}, "size": {"value": 40}}}}}}
        }
       }
     ]
    }
]
}
